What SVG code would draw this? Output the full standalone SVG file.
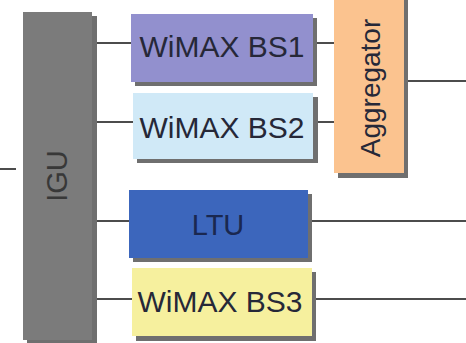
<svg xmlns="http://www.w3.org/2000/svg" width="466" height="343" viewBox="0 0 466 343">
<style>
.sh{fill:#6f6f6f}
.lbl{font-family:"Liberation Sans",Arial,sans-serif;font-size:30px;fill:#262838;text-anchor:middle}
.ln{stroke:#111;stroke-width:1.5;fill:none}
</style>
<rect width="466" height="343" fill="#ffffff"/>
<g id="connectors">
<line class="ln" x1="0" y1="169" x2="16" y2="169"/>
<line class="ln" x1="96" y1="43" x2="131" y2="43"/>
<line class="ln" x1="96" y1="122" x2="133" y2="122"/>
<line class="ln" x1="96" y1="221" x2="129" y2="221"/>
<line class="ln" x1="96" y1="299" x2="132" y2="299"/>
<line class="ln" x1="316" y1="43" x2="334" y2="43"/>
<line class="ln" x1="317" y1="122" x2="334" y2="122"/>
<line class="ln" x1="408" y1="81" x2="466" y2="81"/>
<line class="ln" x1="312" y1="221" x2="466" y2="221"/>
<line class="ln" x1="316" y1="299" x2="466" y2="299"/>
</g>
<g id="igu">
<rect class="sh" x="27" y="16" width="70" height="327"/>
<rect x="23" y="12" width="69" height="328" fill="#7b7b7b"/>
<text class="lbl" transform="translate(67,176) rotate(-90)" style="font-size:29px;fill:#383838">IGU</text>
</g>
<g id="bs1">
<rect class="sh" x="135" y="18" width="182" height="68"/>
<rect x="131" y="14" width="182" height="68" fill="#9290ce"/>
<text class="lbl" x="222" y="57">WiMAX BS1</text>
</g>
<g id="bs2">
<rect class="sh" x="137" y="97" width="181" height="66"/>
<rect x="133" y="93" width="180" height="66" fill="#d0e9f7"/>
<text class="lbl" x="222" y="138">WiMAX BS2</text>
</g>
<g id="ltu">
<rect class="sh" x="133" y="194" width="179" height="68"/>
<rect x="129" y="190" width="179" height="68" fill="#3c66bc"/>
<text class="lbl" x="218" y="235" style="font-size:29px;fill:#1a2850">LTU</text>
</g>
<g id="bs3">
<rect class="sh" x="136" y="272" width="180" height="69"/>
<rect x="132" y="268" width="180" height="68" fill="#f6f09e"/>
<text class="lbl" x="220" y="312">WiMAX BS3</text>
</g>
<g id="aggregator">
<rect class="sh" x="338" y="0" width="70" height="178"/>
<rect x="334" y="0" width="70" height="173" fill="#fbc38f"/>
<text class="lbl" transform="translate(380,88) rotate(-90)" style="font-size:28px">Aggregator</text>
</g>
</svg>
